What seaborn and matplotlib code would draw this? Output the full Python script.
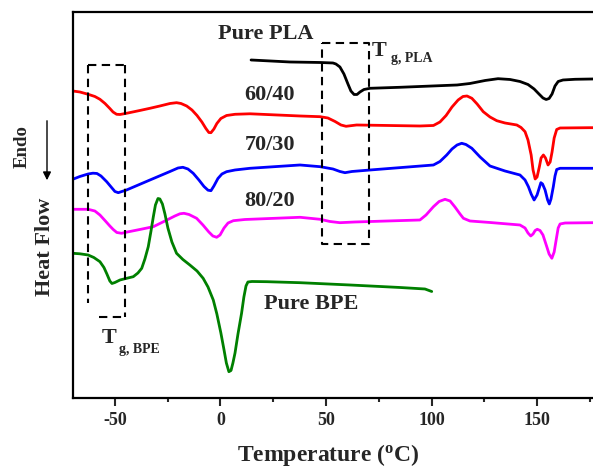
import numpy as np
import pandas as pd
import matplotlib
matplotlib.use("Agg")
import matplotlib.pyplot as plt
import seaborn as sns

# ---------------- data ----------------
pla_T = [14.5, 32.9, 47.2, 53.3, 54.7, 56.6, 58.5, 60.4, 61.8, 63.3,
         64.7, 66.1, 68.0, 70.9, 85.1, 112.1, 118.2, 125.4, 131.5, 137.2,
         141.9, 145.7, 148.6, 150.9, 152.8, 154.3, 155.7, 157.1, 158.5, 160.0,
         162.3, 168.0, 176.5]
pla_H = [340, 338, 337.5, 337, 336, 333, 326, 316, 309, 305.5,
         305.5, 308, 310.5, 311.7, 312.7, 315, 316.5, 319.5, 321.3, 320.5,
         318.5, 315.5, 311, 306, 302, 300.5, 301.5, 306, 314, 318.5,
         320, 320.7, 321]

b6040_T = [-70, -66.6, -62.7, -59.5, -57.1, -54.7, -52.4, -50.9, -49.2, -47.6,
           -44.5, -38.2, -33.4, -28.7, -23.9, -20.8, -18.7, -16.0, -13.5, -11.1,
           -8.8, -6.9, -5.5, -4.5, -3.1, -1.7, 0.2, 2.9, 6.9, 14.0,
           37.7, 47.2, 50.9, 54.3, 57.1, 59.5, 64.5, 94.5, 100.9, 104.0,
           106.9, 109.7, 112.6, 114.9, 116.8, 119.1, 121.6, 124.5, 127.7, 130.9,
           134.8, 140.4, 142.4, 144.3, 145.7, 147.2, 148.1, 149.1, 150.0, 151.1,
           151.9, 153.0, 154.0, 155.2, 156.2, 157.1, 158.1, 159.3, 160.9, 175.1,
           176.5]
b6040_H = [309, 308, 305.7, 303.5, 300.7, 296.5, 291.5, 288, 285.7, 285.5,
           286.7, 289.5, 291.7, 294, 296.5, 297.3, 296.5, 294, 290, 284.5,
           278, 271.5, 267.5, 267.3, 271, 276.5, 281.5, 284.5, 285.7, 286.2,
           284, 283.3, 282, 278.5, 275, 273.7, 275, 274, 274.5, 278,
           284.5, 293, 300, 303.5, 304, 301.7, 296, 288.3, 283, 279.3,
           277, 275, 272.5, 268.3, 260, 245, 230, 221, 223, 233.3,
           242, 245, 242, 235, 238, 248, 262, 270.5, 272, 272.3,
           272.3]

b7030_T = [-70, -66.6, -62.7, -60.4, -58.5, -56.6, -53.9, -51.4, -50.0, -48.4,
           -46.7, -44.5, -33.4, -23.9, -20.1, -17.8, -15.4, -12.9, -10.2, -7.8,
           -5.9, -4.5, -3.1, -1.2, 0.7, 2.9, 6.9, 14.0, 37.7, 47.2,
           53.3, 56.6, 59.0, 62.3, 70.9, 100.9, 104.0, 107.2, 109.7, 112.1,
           114.3, 116.3, 119.1, 123.0, 127.7, 134.8, 141.9, 144.3, 145.9, 147.2,
           148.6, 150.0, 151.8, 152.6, 153.8, 155.0, 155.8, 156.6, 157.7, 158.5,
           159.3, 160.9, 176.5]
b7030_H = [220.7, 223.5, 226, 226.8, 226.5, 224, 218.3, 212, 208.5, 207.3,
           208.5, 210, 220, 228.5, 232, 232.7, 231, 226.7, 220, 213.5,
           209.8, 209.3, 214, 221.5, 226, 228.3, 230, 231.7, 235, 233.3,
           231, 228.5, 227.3, 228.5, 230, 235, 238.5, 245, 251, 255,
           256.7, 255.5, 251.7, 243, 234, 229, 225, 220, 213.3, 206,
           200, 205, 217.3, 216, 210, 200, 196, 201, 213.3, 224,
           230.5, 231.7, 231.7]

b8020_T = [-70, -62.7, -59.5, -57.1, -54.3, -52.4, -50.8, -49.1, -46.8, -44.8,
           -38.2, -31.8, -26.3, -21.6, -19.2, -17.3, -14.9, -11.3, -8.3, -5.5,
           -3.6, -1.8, -0.2, 1.7, 3.6, 6.1, 11.6, 37.7, 47.2, 51.9,
           56.6, 63.7, 94.5, 97.4, 100.9, 103.6, 106.4, 108.8, 111.1, 113.5,
           115.1, 118.2, 127.7, 141.9, 144.3, 145.7, 147.0, 148.1, 149.1, 150.1,
           151.4, 152.8, 154.6, 155.7, 157.0, 158.1, 159.3, 160.0, 160.9, 163.3,
           176.5]
b8020_H = [190.7, 190.7, 189, 185, 178.5, 174, 170.5, 167.5, 166.7, 167.7,
           170.5, 173.3, 179, 184, 186.2, 186.7, 185.5, 181.7, 175, 168,
           164, 162.7, 165, 172, 177, 179.3, 180.5, 182.7, 180.7, 178.5,
           177.3, 178, 180, 185, 193.3, 198.5, 200.7, 199, 193, 186,
           181.7, 179, 177.5, 175, 172, 167, 164, 166, 169.5, 170.7,
           169.5, 165, 153.3, 146, 141.7, 148, 163.3, 172, 176, 177,
           177.3]

bpe_T = [-70, -66.6, -62.7, -60.0, -57.1, -55.2, -53.8, -52.4, -51.4, -50.0,
         -47.6, -44.8, -41.3, -39.1, -37.3, -35.8, -34.2, -32.9, -31.8, -30.8,
         -29.6, -28.7, -27.5, -26.3, -24.9, -23.0, -20.8, -17.8, -14.5, -11.1,
         -8.2, -5.9, -3.4, -1.7, 0.2, 1.7, 2.8, 4.0, 5.0, 5.9,
         6.9, 8.3, 10.0, 11.1, 12.1, 13.0, 14.9, 21.9, 37.7, 61.4,
         85.1, 96.9, 100.1]
bpe_H = [146.7, 146.2, 145, 142.5, 138.3, 132.5, 126, 119, 116.5, 117.5,
         120, 121.5, 123.3, 127, 131.7, 141, 153.3, 169, 183.3, 195,
         201.5, 201, 196, 186, 172, 158, 146.7, 140.5, 135, 129,
         121.7, 113, 100, 86, 67, 50, 37, 28.3, 29.5, 37,
         47, 66, 86.7, 103, 114, 118, 118.5, 118.3, 117.3, 115,
         112.5, 111, 108.5]

series_names = ["Pure PLA", "60/40", "70/30", "80/20", "Pure BPE"]
series_colors = ["black", "#ff0000", "#0000ff", "#ff00ff", "#008000"]
x_ticks = [-50, 0, 50, 100, 150]
x_minor = [-25, 25, 75, 125, 175]

frames = []
for name, T, H in zip(series_names,
                      [pla_T, b6040_T, b7030_T, b8020_T, bpe_T],
                      [pla_H, b6040_H, b7030_H, b8020_H, bpe_H]):
    frames.append(pd.DataFrame({"T": T, "H": H, "s": name}))
df = pd.concat(frames, ignore_index=True)

# ---------------- style ----------------
sns.set_style("ticks")
plt.rcParams["font.family"] = ["Liberation Serif", "DejaVu Serif"]
plt.rcParams["font.weight"] = "bold"
plt.rcParams["mathtext.fontset"] = "custom"
plt.rcParams["mathtext.rm"] = "Liberation Serif:bold"
plt.rcParams["mathtext.it"] = "Liberation Serif:bold"
plt.rcParams["mathtext.bf"] = "Liberation Serif:bold"
plt.rcParams["mathtext.default"] = "rm"

fig = plt.figure(figsize=(5.93, 4.70), dpi=100)
ax = fig.add_axes([0.1226, 0.1532, 0.8774, 0.8213])

sns.lineplot(data=df, x="T", y="H", hue="s", hue_order=series_names,
             palette=series_colors, sort=False, estimator=None, lw=2.0,
             legend=False, ax=ax)
for ln in ax.get_lines():
    ln.set_solid_joinstyle("round")
    ln.set_solid_capstyle("round")

ax.set_xlim(-70, 176.5)
ax.set_ylim(2, 388)

# dashed Tg boxes
dash_kw = dict(color="black", lw=1.5, ls=(0, (4, 2.6)))
ax.plot([-62.7, -45.3], [335, 335], **dash_kw)
ax.plot([-62.7, -62.7], [335, 97], **dash_kw)
ax.plot([-45.3, -45.3], [335, 83], **dash_kw)
ax.plot([-57.6, -45.3], [83, 83], **dash_kw)
ax.plot([48.1, 70.4, 70.4, 48.1, 48.1], [357, 357, 156, 156, 357], **dash_kw)

# labels on curves
lab_kw = dict(fontsize=16, fontweight="bold", ha="center", va="center")
ax.text(21.3, 366, "Pure PLA", **lab_kw)
ax.text(23.0, 304.5, "60/40", **lab_kw)
ax.text(23.5, 255, "70/30", **lab_kw)
ax.text(23.5, 198.5, "80/20", **lab_kw)
ax.text(42.9, 96, "Pure BPE", **lab_kw)

ax.text(71.8, 344, "T", fontsize=16, fontweight="bold", ha="left", va="baseline")
ax.text(80.8, 337.5, "g, PLA", fontsize=10, fontweight="bold", ha="left", va="baseline")
ax.text(-56.2, 57, "T", fontsize=16, fontweight="bold", ha="left", va="baseline")
ax.text(-48.1, 47, "g, BPE", fontsize=10, fontweight="bold", ha="left", va="baseline")

# axes styling
ax.set_xticks(x_ticks)
ax.set_xticks(x_minor, minor=True)
ax.set_xticklabels([str(t) for t in x_ticks], fontsize=13, fontweight="bold")
ax.set_yticks([])
ax.tick_params(axis="x", which="major", direction="out", length=5.8, width=1.5, pad=4)
ax.tick_params(axis="x", which="minor", direction="out", length=3, width=1.5)
for sp in ["left", "bottom", "top"]:
    ax.spines[sp].set_linewidth(1.6)
    ax.spines[sp].set_color("black")
ax.spines["right"].set_visible(False)

ax.set_xlabel(r"Temperature ($^{o}$C)", fontsize=17, fontweight="bold")
ax.xaxis.set_label_coords(0.4907, -0.113)
ax.set_ylabel("")

fig.text(45 / 593, 1 - 247 / 470, "Heat Flow", rotation=90, fontsize=16,
         fontweight="bold", ha="center", va="center")
fig.text(22 / 593, 1 - 147 / 470, "Endo", rotation=90, fontsize=13.5,
         fontweight="bold", ha="center", va="center")
fig.patches.append(matplotlib.patches.FancyArrowPatch(
    (47 / 593, 1 - 118 / 470), (47 / 593, 1 - 183 / 470),
    transform=fig.transFigure, arrowstyle="-|>", mutation_scale=12,
    lw=1.0, color="black"))

fig.savefig("out.png", dpi=100)
